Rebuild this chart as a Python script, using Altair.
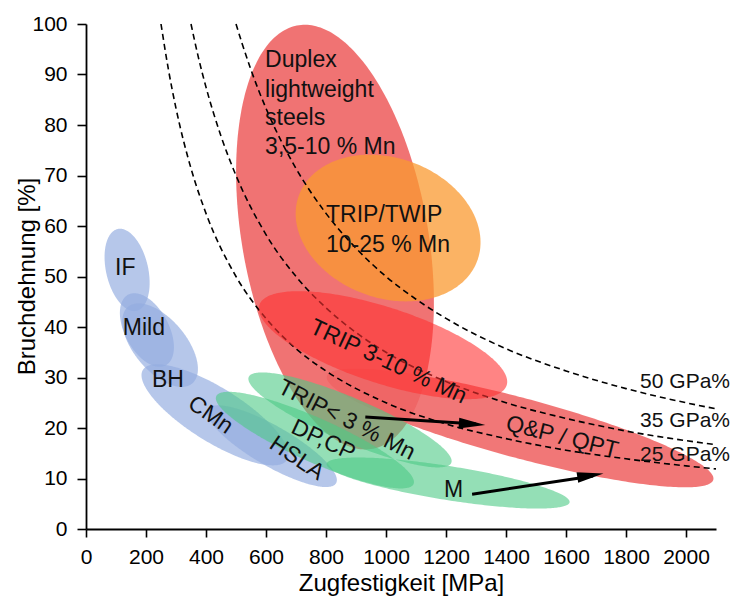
import numpy as np
import pandas as pd
import altair as alt

# ---------------- data ----------------
X_MAX = 2100
Y_MAX = 100
W = 630
H = 505
SX = W / X_MAX
SY = H / Y_MAX

# ellipse regions: centre (MPa, %), semi-axes (px), orientation of major axis (deg, screen)
region_names = ["QP", "Duplex", "TWIP", "TRIP310", "IF", "Mild", "BH", "CMn", "HSLA",
                "TRIP3", "DPCP", "M"]
region_cx = [1447, 830, 1007, 990, 137, 203, 247, 430, 620, 880, 763, 1207]
region_cy = [20.0, 57.8, 59.6, 36.4, 51.3, 39.4, 36.4, 22.6, 16.4, 21.6, 17.6, 9.1]
region_a = [200, 215, 95, 130, 42, 40, 50, 85, 74, 110, 108, 123]
region_b = [30, 93, 70, 38, 21, 22, 26, 27, 20, 22, 22, 17]
region_phi = [15, 80, 20, 18, 77, 62, 50, 32, 30, 23, 24, 9]
region_fill = ["#EE5555", "#EE6464", "#FA9A30", "#FF3232",
               "#93ADE0", "#93ADE0", "#93ADE0", "#93ADE0", "#93ADE0",
               "#4CC985", "#4CC985", "#4CC985"]
region_opacity = [0.8, 0.9, 0.75, 0.6, 0.68, 0.68, 0.68, 0.68, 0.68, 0.6, 0.6, 0.6]

# iso-lines of strength x elongation (GPa%)
c50_x = [500, 520, 550, 600, 650, 700, 800, 900, 1000, 1100, 1200, 1400, 1600, 1800, 2000, 2100]
c50_y = [100, 96.2, 90.9, 83.3, 76.9, 71.4, 62.5, 55.6, 50, 45.5, 41.7, 35.7, 31.3, 27.8, 25, 23.8]
c35_x = [350, 375, 400, 450, 500, 600, 700, 800, 900, 1000, 1200, 1400, 1600, 1800, 2000, 2100]
c35_y = [100, 93.3, 87.5, 77.8, 70, 58.3, 50, 43.8, 38.9, 35, 29.2, 25, 21.9, 19.4, 17.5, 16.7]
c25_x = [250, 275, 300, 350, 400, 500, 600, 700, 800, 1000, 1200, 1400, 1600, 1800, 2000, 2100]
c25_y = [100, 90.9, 83.3, 71.4, 62.5, 50, 41.7, 35.7, 31.3, 25, 20.8, 17.9, 15.6, 13.9, 12.5, 11.9]

# labels
left_text = ["Duplex", "lightweight", "steels", "3,5-10 % Mn", "TRIP/TWIP", "10-25 % Mn"]
left_x = [597, 597, 597, 597, 800, 800]
left_y = [92.9, 86.9, 81.4, 75.6, 62.2, 56.2]

gpa_text = ["50 GPa%", "35 GPa%", "25 GPa%"]
gpa_x = [1847, 1847, 1847]
gpa_y = [29.1, 21.3, 14.7]

center_text = ["IF", "Mild", "BH", "CMn", "HSLA", "TRIP< 3 % Mn", "DP,CP", "TRIP 3-10 % Mn",
               "Q&P / QPT", "M"]
center_x = [131, 193, 273, 415, 703, 869, 791, 1008, 1587, 1225]
center_y = [51.7, 39.9, 29.5, 22.6, 14.0, 21.6, 17.6, 33.1, 18.2, 7.7]
center_angle = [0, 0, 0, 35, 34, 27, 25, 25, 14, 0]

# arrows
arrow_x0 = [931, 1287]
arrow_y0 = [22.2, 6.9]
arrow_x1 = [1300, 1690]
arrow_y1 = [20.8, 10.5]
arrow_tip_x = [1331, 1725]
arrow_tip_y = [20.6, 11.0]
arrow_angle = [4, 351]

FONT = "Liberation Sans"


def ellipse_frame(cx, cy, a, b, phi_deg, n=140):
    phi = np.radians(phi_deg)
    c, s = np.cos(phi), np.sin(phi)
    px0 = cx * SX
    py0 = (Y_MAX - cy) * SY
    w = np.sqrt(a * a * c * c + b * b * s * s)
    t = np.linspace(0, np.pi, n)
    dx = -w * np.cos(t)
    A = s * s / a ** 2 + c * c / b ** 2
    B = 2 * dx * c * s * (1 / a ** 2 - 1 / b ** 2)
    C = dx ** 2 * (c * c / a ** 2 + s * s / b ** 2) - 1
    disc = np.clip(B * B - 4 * A * C, 0, None)
    r1 = (-B - np.sqrt(disc)) / (2 * A)
    r2 = (-B + np.sqrt(disc)) / (2 * A)
    return pd.DataFrame({
        "x": (px0 + dx) / SX,
        "ytop": Y_MAX - (py0 + r1) / SY,
        "ybot": Y_MAX - (py0 + r2) / SY,
    })


xscale = alt.Scale(domain=[0, X_MAX], nice=False, zero=False)
yscale = alt.Scale(domain=[0, Y_MAX], nice=False, zero=False)

x_axis = alt.Axis(
    values=list(range(0, 2101, 100)), format="d",
    labelExpr="datum.value % 200 === 0 ? datum.label : ''",
    tickSize={"condition": {"test": "datum.value % 200 === 0", "value": 8}, "value": 4},
    grid=False, labelFont=FONT, labelFontSize=21, labelColor="black", labelPadding=9,
    labelOverlap=False, labelFlush=False,
    title="Zugfestigkeit [MPa]", titleFont=FONT, titleFontSize=24, titleFontWeight="normal",
    titleColor="black", titleX=315, titleY=54, titleBaseline="middle", titleAlign="center",
    domainColor="black", domainWidth=1.8, tickColor="black", tickWidth=1.6)
y_axis = alt.Axis(
    values=list(range(0, 101, 5)), format="d",
    labelExpr="datum.value % 10 === 0 ? datum.label : ''",
    tickSize={"condition": {"test": "datum.value % 10 === 0", "value": 9}, "value": 5},
    grid=False, labelFont=FONT, labelFontSize=21, labelColor="black", labelPadding=10,
    labelOverlap=False, labelFlush=False,
    title="Bruchdehnung [%]", titleFont=FONT, titleFontSize=24, titleFontWeight="normal",
    titleColor="black", titleX=-59, titleY=252, titleBaseline="middle", titleAlign="center",
    titleAngle=270,
    domainColor="black", domainWidth=1.8, tickColor="black", tickWidth=1.6)


def region_layer(i):
    df = ellipse_frame(region_cx[i], region_cy[i], region_a[i], region_b[i], region_phi[i])
    return alt.Chart(df).mark_area(color=region_fill[i], opacity=region_opacity[i]).encode(
        x=alt.X("x:Q", scale=xscale, axis=x_axis),
        y=alt.Y("ytop:Q", scale=yscale, axis=y_axis),
        y2="ybot:Q",
    )


curves = pd.concat([
    pd.DataFrame({"x": c50_x, "y": c50_y, "c": "50"}),
    pd.DataFrame({"x": c35_x, "y": c35_y, "c": "35"}),
    pd.DataFrame({"x": c25_x, "y": c25_y, "c": "25"}),
])
curve_layer = alt.Chart(curves).mark_line(
    color="black", strokeWidth=1.6, strokeDash=[6, 4], interpolate="monotone"
).encode(x=alt.X("x:Q", scale=xscale), y=alt.Y("y:Q", scale=yscale), detail="c:N")

arrow_df = pd.DataFrame({
    "x": arrow_x0 + arrow_x1, "y": arrow_y0 + arrow_y1, "k": [0, 1, 0, 1], "o": [0, 0, 1, 1]
})
shaft_layer = alt.Chart(arrow_df).mark_line(color="black", strokeWidth=3).encode(
    x=alt.X("x:Q", scale=xscale), y=alt.Y("y:Q", scale=yscale), detail="k:N", order="o:Q")
head_df = pd.DataFrame({"x": arrow_tip_x, "y": arrow_tip_y, "a": arrow_angle})
head_layer = alt.Chart(head_df).mark_point(
    shape="M0,0 L-2,-0.4 L-2,0.4 Z", filled=True, color="black", opacity=1, size=700,
    strokeWidth=0
).encode(x=alt.X("x:Q", scale=xscale), y=alt.Y("y:Q", scale=yscale),
         angle=alt.Angle("a:Q", scale=None))

left_df = pd.DataFrame({"x": left_x, "y": left_y, "t": left_text})
left_layer = alt.Chart(left_df).mark_text(
    align="left", baseline="middle", font=FONT, fontSize=23, color="#111111"
).encode(x=alt.X("x:Q", scale=xscale), y=alt.Y("y:Q", scale=yscale), text="t:N")

gpa_df = pd.DataFrame({"x": gpa_x, "y": gpa_y, "t": gpa_text})
gpa_layer = alt.Chart(gpa_df).mark_text(
    align="left", baseline="middle", font=FONT, fontSize=21, color="#111111"
).encode(x=alt.X("x:Q", scale=xscale), y=alt.Y("y:Q", scale=yscale), text="t:N")

center_df = pd.DataFrame({"x": center_x, "y": center_y, "t": center_text, "a": center_angle})
center_layer = alt.Chart(center_df).mark_text(
    align="center", baseline="middle", font=FONT, fontSize=23, color="#111111"
).encode(x=alt.X("x:Q", scale=xscale), y=alt.Y("y:Q", scale=yscale), text="t:N",
         angle=alt.Angle("a:Q", scale=None))

order_before = [0, 1, 2]
order_after = [3, 4, 5, 6, 7, 8, 9, 10, 11]
layers = [region_layer(i) for i in order_before] + [curve_layer] + \
         [region_layer(i) for i in order_after] + \
         [shaft_layer, head_layer, left_layer, gpa_layer, center_layer]

chart = alt.layer(*layers).properties(
    width=W, height=H,
    background="white",
    autosize=alt.AutoSizeParams(type="none"),
    padding={"left": 78, "top": 16, "right": 14, "bottom": 71},
).configure_view(strokeWidth=0, stroke="transparent", strokeOpacity=0)

chart.save("out.html", embed_options={"renderer": "svg", "actions": False})
